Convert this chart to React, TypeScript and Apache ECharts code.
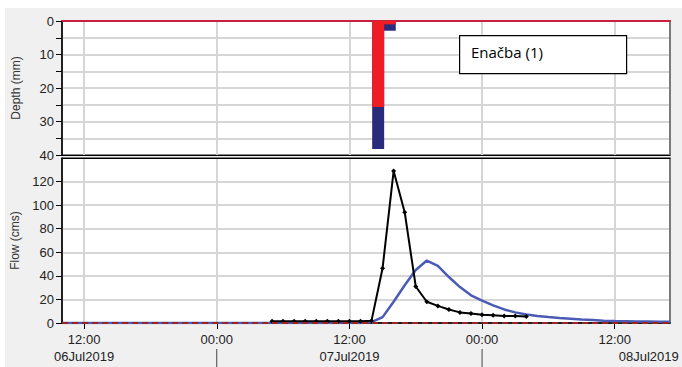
import React, { useEffect, useRef } from 'react';
import * as echarts from 'echarts';

// x values are hours counted from 06Jul2019 00:00
const X_MIN = 10;
const X_MAX = 65;
const timeTickHours = [12, 24, 36, 48, 60];
const dayBoundaryHours = [24, 48];
const dayLabelHours = [12, 36, 60];
const dayLabels = ['06Jul2019', '07Jul2019', '08Jul2019'];

// precipitation (mm), hourly blocks centred on the half hour
const precipHours = [38.6, 39.65];
const precipLoss = [25.7, 1.0];
const precipExcess = [12.5, 1.9];

// observed flow (black, with markers)
const obsHours = [29, 30, 31, 32, 33, 34, 35, 36, 37, 38, 39, 40, 41, 42, 43, 44, 45, 46, 47, 48, 49, 50, 51, 52];
const obsFlow = [1.5, 1.5, 1.5, 1.5, 1.5, 1.5, 1.5, 1.5, 1.5, 2, 46.5, 129, 94, 31, 18, 14.5, 11.5, 9, 8, 7, 6.5, 6, 6, 5.5];

// simulated flow (blue)
const simHours = [10, 37, 38, 39, 40, 41, 42, 43, 44, 45, 46, 47, 48, 49, 50, 51, 52, 53, 54, 55, 56, 57, 58, 59, 60, 61, 62, 63, 64, 65];
const simFlow = [0, 0, 0.8, 5, 18, 32, 45, 53, 48.5, 39, 30.5, 23.5, 19, 15, 11.5, 9, 7.3, 6, 5, 4.2, 3.6, 3, 2.5, 2, 1.7, 1.5, 1.3, 1.2, 1.1, 1.0];

// zero baseline (dashed red)
const baseHours = [10, 65];
const baseFlow = [0, 0];

const depthTicksLabelled = 10;
const FONT = '"Liberation Sans", Arial, sans-serif';

const zip = (xs: number[], ys: number[]) => xs.map((x, i) => [x, ys[i]]);
const hhmm = (h: number) => `${String(((h % 24) + 24) % 24).padStart(2, '0')}:00`;

export default function App() {
  const ref = useRef<HTMLDivElement>(null);
  useEffect(() => {
    if (!ref.current) return;
    const chart = echarts.init(ref.current, undefined, { renderer: 'svg' });
    const vGrid = { show: true, lineStyle: { color: '#d6d6d6', width: 2 } };
    const hGrid = { show: true, showMinLine: false, showMaxLine: false, lineStyle: { color: '#c9c9c9', width: 1.5 } };
    const totals = precipLoss.map((v, i) => v + precipExcess[i]);
    const baseGraphic: any[] = [
      { id: 'bg', type: 'rect', left: 5, top: 8, shape: { width: 677, height: 359 }, style: { fill: '#f0f0f0' }, z: -10, silent: true },
      { id: 'box', type: 'rect', left: 459, top: 35, z: 100, zlevel: 1, shape: { width: 167, height: 38 }, style: { fill: '#fff', stroke: '#000', lineWidth: 1.2 } },
      { id: 'boxText', type: 'text', left: 471, top: 44, z: 101, zlevel: 1, style: { text: 'Enačba (1)', fill: '#000', font: '15px "Open Sans", sans-serif' } },
    ];
    chart.setOption({
      animation: false,
      backgroundColor: '#ffffff',
      graphic: baseGraphic,
      grid: [
        { left: 62, right: 12, top: 21, height: 134, show: true, backgroundColor: '#fff', borderColor: '#111', borderWidth: 1 },
        { left: 62, right: 12, top: 158, height: 165, show: true, backgroundColor: '#fff', borderColor: '#111', borderWidth: 1 },
      ],
      xAxis: [
        {
          gridIndex: 0, type: 'value', min: X_MIN, max: X_MAX, position: 'top',
          axisLine: { lineStyle: { color: '#c8203f', width: 2 } },
          axisTick: { show: false, customValues: timeTickHours },
          axisLabel: { show: false, customValues: timeTickHours },
          splitLine: vGrid,
        },
        {
          gridIndex: 1, type: 'value', min: X_MIN, max: X_MAX, position: 'bottom',
          axisLine: { lineStyle: { color: '#000', width: 1.5 } },
          axisTick: { customValues: timeTickHours, length: 6, lineStyle: { color: '#000' } },
          axisLabel: { customValues: timeTickHours, formatter: (v: number) => hhmm(v), margin: 10, fontSize: 13, fontFamily: FONT, color: '#222', hideOverlap: false },
          splitLine: vGrid,
        },
        {
          gridIndex: 1, type: 'value', min: X_MIN, max: X_MAX, position: 'bottom', offset: 26,
          axisLine: { show: false },
          axisTick: { show: false },
          axisLabel: {
            customValues: dayLabelHours, margin: 1, fontSize: 13, fontFamily: FONT, color: '#222', hideOverlap: false,
            formatter: (v: number) => {
              const i = dayLabelHours.indexOf(v);
              return i === dayLabels.length - 1 ? `{shift|${dayLabels[i]}}` : dayLabels[i];
            },
            rich: { shift: { padding: [0, 0, 0, 68], fontSize: 13, fontFamily: FONT, color: '#222' } },
          },
          splitLine: { show: false },
        },
        {
          gridIndex: 0, type: 'value', min: X_MIN, max: X_MAX, position: 'bottom',
          axisLine: { show: true, lineStyle: { color: '#000', width: 1 } },
          axisTick: { show: false }, axisLabel: { show: false }, splitLine: { show: false },
        },
        {
          gridIndex: 1, type: 'value', min: X_MIN, max: X_MAX, position: 'top',
          axisLine: { show: true, lineStyle: { color: '#000', width: 1 } },
          axisTick: { show: false }, axisLabel: { show: false }, splitLine: { show: false },
        },
      ],
      yAxis: [
        {
          gridIndex: 0, type: 'value', inverse: true, min: 0, max: 40, interval: 5,
          name: 'Depth (mm)', nameLocation: 'middle', nameGap: 40,
          nameTextStyle: { fontSize: 12, fontFamily: FONT, color: '#333' },
          axisLine: { show: true, lineStyle: { color: '#000', width: 1.5 } },
          axisTick: { show: true, length: 6, lineStyle: { color: '#000' } },
          axisLabel: { margin: 8, fontSize: 13, fontFamily: FONT, color: '#222', formatter: (v: number) => (v % depthTicksLabelled === 0 ? String(v) : '') },
          splitLine: hGrid,
        },
        {
          gridIndex: 1, type: 'value', min: 0, max: 140, interval: 20,
          name: 'Flow (cms)', nameLocation: 'middle', nameGap: 40,
          nameTextStyle: { fontSize: 12, fontFamily: FONT, color: '#333' },
          axisLine: { show: true, lineStyle: { color: '#000', width: 1.5 } },
          axisTick: { show: true, length: 6, lineStyle: { color: '#000' } },
          axisLabel: { margin: 8, fontSize: 13, fontFamily: FONT, color: '#222', showMaxLabel: false },
          splitLine: hGrid,
        },
        {
          gridIndex: 0, type: 'value', position: 'right', min: 0, max: 1,
          axisLine: { show: true, lineStyle: { color: '#7a7a7a', width: 2 } },
          axisTick: { show: false }, axisLabel: { show: false }, splitLine: { show: false },
        },
        {
          gridIndex: 1, type: 'value', position: 'right', min: 0, max: 1,
          axisLine: { show: true, lineStyle: { color: '#7a7a7a', width: 2 } },
          axisTick: { show: false }, axisLabel: { show: false }, splitLine: { show: false },
        },
      ],
      series: [
        {
          type: 'bar', xAxisIndex: 0, yAxisIndex: 0, barWidth: 12, barGap: '-100%',
          itemStyle: { color: '#2b2b7b' }, data: zip(precipHours, totals), z: 2,
        },
        {
          type: 'bar', xAxisIndex: 0, yAxisIndex: 0, barWidth: 12, barGap: '-100%',
          itemStyle: { color: '#ee1d25' }, data: zip(precipHours, precipLoss), z: 3,
        },
        {
          type: 'line', xAxisIndex: 1, yAxisIndex: 1, showSymbol: false,
          lineStyle: { color: '#4a5bb6', width: 2.5 }, data: zip(simHours, simFlow), z: 3,
        },
        {
          type: 'line', xAxisIndex: 1, yAxisIndex: 1, symbol: 'diamond', symbolSize: 5,
          itemStyle: { color: '#000' }, lineStyle: { color: '#000', width: 2 }, data: zip(obsHours, obsFlow), z: 4,
        },
        {
          type: 'line', xAxisIndex: 1, yAxisIndex: 1, showSymbol: false,
          lineStyle: { color: '#9b2323', width: 2, type: [6, 4] }, data: zip(baseHours, baseFlow), z: 5,
        },
      ],
    });
    // day-boundary separator ticks under the time axis, placed through the axis scale
    const sepLines = dayBoundaryHours.map((h, i) => {
      const px = chart.convertToPixel({ xAxisIndex: 1 }, h) as number;
      return {
        id: `sep${i}`, type: 'line', z: 50, silent: true,
        shape: { x1: px, y1: 349, x2: px, y2: 367 },
        style: { stroke: '#444', lineWidth: 1 },
      };
    });
    chart.setOption({ graphic: [...baseGraphic, ...sepLines] });
    return () => chart.dispose();
  }, []);
  return <div ref={ref} style={{ position: 'fixed', left: 0, top: 0, width: 682, height: 367 }} />;
}
